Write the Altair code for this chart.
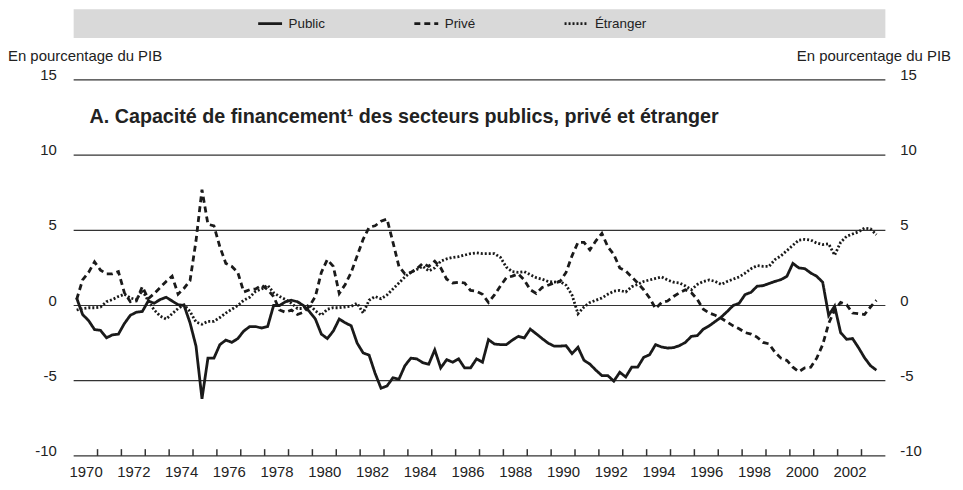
import altair as alt
import pandas as pd

# ---- data (quarterly, 1970Q1 - 2003Q3), % of GDP ----
series_names = ["Public", "Privé", "Étranger"]

public = [0.5, -0.6, -1.0, -1.6, -1.65, -2.15, -1.95, -1.9, -1.2, -0.65,
          -0.45, -0.4, 0.3, 0.15, 0.4, 0.55, 0.3, 0.05, 0.0, -1.15,
          -2.7, -6.2, -3.5, -3.5, -2.6, -2.3, -2.45, -2.2, -1.7, -1.4,
          -1.4, -1.5, -1.4, 0.0, 0.0, 0.25, 0.35, 0.25, 0.0, -0.4,
          -0.9, -1.9, -2.2, -1.7, -0.9, -1.15, -1.35, -2.5, -3.15, -3.3,
          -4.5, -5.5, -5.35, -4.8, -4.9, -4.0, -3.5, -3.55, -3.8, -3.9,
          -2.95, -4.15, -3.6, -3.77, -3.55, -4.15, -4.15, -3.55, -3.77, -2.27,
          -2.56, -2.6, -2.6, -2.3, -2.05, -2.16, -1.57, -1.88, -2.2, -2.5,
          -2.7, -2.7, -2.67, -3.2, -2.78, -3.64, -3.9, -4.3, -4.66, -4.66,
          -5.03, -4.44, -4.75, -4.1, -4.1, -3.45, -3.27, -2.6, -2.76, -2.83,
          -2.8, -2.67, -2.45, -2.05, -2.0, -1.57, -1.35, -1.06, -0.77, -0.4,
          0.0, 0.15, 0.73, 0.88, 1.28, 1.32, 1.46, 1.6, 1.72, 1.94,
          2.8, 2.5, 2.45, 2.16, 1.94, 1.55, -0.66, -0.04, -1.8, -2.25,
          -2.2, -2.8, -3.47, -4.0, -4.3]

prive = [0.4, 1.7, 2.2, 2.9, 2.35, 2.1, 2.1, 2.25, 0.85, 0.25,
         0.3, 1.25, 0.45, 0.8, 1.2, 1.6, 1.95, 0.75, 1.15, 1.65,
         4.3, 7.7, 5.4, 5.3, 3.9, 2.8, 2.6, 2.2, 0.9, 1.05,
         1.1, 1.35, 1.05, 0.6, -0.3, -0.45, -0.3, -0.6, -0.45, -0.05,
         0.6, 2.2, 3.05, 2.6, 0.8, 1.4, 2.2, 3.3, 4.4, 5.2,
         5.3, 5.6, 5.75, 4.2, 2.6, 2.1, 2.2, 2.45, 2.8, 2.6,
         2.95, 2.5, 1.75, 1.5, 1.55, 1.5, 1.0, 0.95, 0.75, 0.2,
         0.7, 1.3, 1.85, 1.95, 2.1, 1.7, 1.05, 0.8, 1.2, 1.35,
         1.5, 1.6, 2.2, 3.3, 4.2, 4.2, 3.7, 4.3, 4.8, 3.9,
         3.4, 2.5, 2.3, 1.9, 1.5, 1.05, 0.5, -0.2, 0.2, 0.3,
         0.6, 0.85, 1.05, 0.85, 0.4, -0.25, -0.5, -0.65, -0.85, -1.1,
         -1.35, -1.55, -1.8, -1.9, -2.1, -2.45, -2.55, -3.1, -3.5, -3.65,
         -4.1, -4.4, -4.15, -4.1, -3.5, -2.6, -1.2, -0.3, 0.2, 0.05,
         -0.5, -0.55, -0.6, -0.1, 0.35]

etranger = [-0.3, -0.2, -0.15, -0.15, -0.1, 0.25, 0.4, 0.6, 0.75, 0.5,
            0.4, 1.0, 0.3, -0.3, -0.7, -0.9, -0.55, -0.2, 0.05, -0.4,
            -1.1, -1.25, -1.05, -1.05, -0.8, -0.5, -0.25, 0.0, 0.35, 0.55,
            0.95, 1.1, 1.35, 0.85, 0.6, 0.4, 0.15, -0.2, -0.2, 0.05,
            -0.35, -0.65, -0.25, -0.15, -0.15, -0.1, -0.05, 0.15, -0.5, 0.35,
            0.6, 0.45, 0.7, 1.1, 1.5, 1.9, 2.2, 2.4, 2.6, 2.3,
            2.5, 2.95, 3.1, 3.2, 3.25, 3.35, 3.45, 3.5, 3.45, 3.45,
            3.45, 3.2, 2.55, 2.25, 2.2, 2.25, 2.05, 1.85, 1.75, 1.6,
            1.55, 1.6, 1.35, 0.7, -0.55, -0.1, 0.2, 0.35, 0.5, 0.75,
            0.95, 1.0, 0.9, 1.25, 1.4, 1.6, 1.7, 1.8, 1.9, 1.7,
            1.55, 1.5, 1.3, 1.05, 1.4, 1.6, 1.7, 1.6, 1.4, 1.6,
            1.75, 1.9, 2.15, 2.45, 2.65, 2.6, 2.6, 3.05, 3.3, 3.65,
            4.0, 4.35, 4.4, 4.35, 4.15, 4.05, 4.1, 3.35, 4.2, 4.6,
            4.75, 4.9, 5.15, 5.1, 4.7]

y_ticks = [-10, -5, 0, 5, 10, 15]
y_labels = ["-10", "-5", "0", "5", "10", "15"]
label_years = list(range(1970, 2003, 2))
tick_years = list(range(1971, 2004))
panel_title = "A.  Capacité de financement¹ des secteurs publics, privé et étranger"
axis_title = "En pourcentage du PIB"

rows = []
for name, vals in zip(series_names, [public, prive, etranger]):
    for k, v in enumerate(vals):
        rows.append({"t": 1970.125 + 0.25 * k, "value": v, "series": name})
df = pd.DataFrame(rows)

FONT = "Liberation Sans"
INK = "#222222"
W, H = 816, 380
xscale = alt.Scale(domain=[1970, 2004], nice=False, zero=False)
# a little room under -10 so the bottom rule and ticks sit fully inside the plot
yscale = alt.Scale(domain=[-10.13, 15], nice=False, zero=False)

x_axis = alt.Axis(values=[y + 0.5 for y in label_years], labelExpr="floor(datum.value)",
                  domain=False, ticks=False, grid=False, title=None,
                  labelFontSize=15, labelFont=FONT, labelColor=INK, labelPadding=7,
                  labelFlush=False, labelOverlap=False)

ylab_df = pd.DataFrame({"v": y_ticks, "lab": y_labels})

gridlines = alt.Chart(pd.DataFrame({"g": y_ticks})).mark_rule(color="#333", strokeWidth=1.2).encode(
    y=alt.Y("g:Q", scale=yscale, axis=None),
)

ticks_df = pd.DataFrame({"yr": tick_years, "y0": [-10.0] * len(tick_years),
                         "y1": [-9.55] * len(tick_years)})
ticks = alt.Chart(ticks_df).mark_rule(color="#333", strokeWidth=1.5).encode(
    x=alt.X("yr:Q", scale=xscale, axis=x_axis),
    y=alt.Y("y0:Q", scale=yscale, axis=None),
    y2="y1:Q",
)

legend_bg = alt.Chart(pd.DataFrame({"a": [0]})).mark_rect(color="#d9d9d9").encode(
    x=alt.value(0), x2=alt.value(W), y=alt.value(-71), y2=alt.value(-42))

lines = alt.Chart(df).mark_line(strokeWidth=2.8, color="#1a1a1a").encode(
    x=alt.X("t:Q", scale=xscale, axis=x_axis),
    y=alt.Y("value:Q", scale=yscale, axis=None),
    strokeDash=alt.StrokeDash(
        "series:N",
        scale=alt.Scale(domain=series_names, range=[[1, 0], [6, 4], [2, 2]]),
        legend=alt.Legend(title=None, orient="none", direction="horizontal",
                          legendX=184, legendY=-70, symbolType="stroke",
                          symbolSize=576, symbolStrokeWidth=2.8,
                          symbolStrokeColor="#1a1a1a", labelFont=FONT,
                          labelFontSize=13.5, labelColor=INK, labelOffset=5,
                          columnPadding=83),
    ),
    detail="series:N",
)

left_labels = alt.Chart(ylab_df).mark_text(
    align="right", baseline="alphabetic", font=FONT, fontSize=15, color=INK
).encode(x=alt.value(-17), y=alt.Y("v:Q", scale=yscale, axis=None), text="lab:N")

right_labels = alt.Chart(ylab_df).mark_text(
    align="left", baseline="alphabetic", font=FONT, fontSize=15, color=INK
).encode(x=alt.value(W + 15), y=alt.Y("v:Q", scale=yscale, axis=None), text="lab:N")

titles_df = pd.DataFrame({"s": [axis_title]})
left_title = alt.Chart(titles_df).mark_text(
    align="left", baseline="alphabetic", font=FONT, fontSize=15, color=INK
).encode(x=alt.value(-66), y=alt.value(-19), text="s:N")
right_title = alt.Chart(titles_df).mark_text(
    align="right", baseline="alphabetic", font=FONT, fontSize=15, color=INK
).encode(x=alt.value(W + 66), y=alt.value(-19), text="s:N")

title = alt.Chart(pd.DataFrame({"s": [panel_title]})).mark_text(
    align="left", baseline="alphabetic", font=FONT, fontSize=19.8, fontWeight="bold", color=INK
).encode(x=alt.value(16), y=alt.value(43), text="s:N")

chart = alt.layer(gridlines, ticks, legend_bg, lines, left_labels, right_labels,
                  left_title, right_title, title).properties(
    width=W, height=H,
    padding={"left": 66, "top": 71, "right": 70, "bottom": 25},
    autosize=alt.AutoSizeParams(type="none"),
).configure_view(stroke=None)

chart.save("out.html", embed_options={"renderer": "svg", "actions": False})
